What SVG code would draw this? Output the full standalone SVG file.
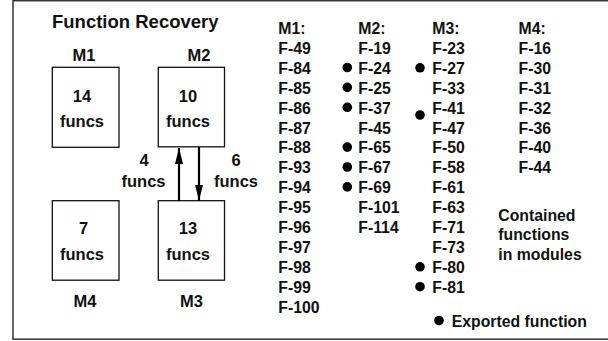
<svg xmlns="http://www.w3.org/2000/svg" width="608" height="341" viewBox="0 0 608 341">
<defs>
<style>
text{font-family:"Liberation Sans",Arial,Helvetica,sans-serif;font-weight:bold;fill:#111;}
.t{font-size:18.5px;}
.b{font-size:16.5px;text-anchor:middle;}
.l{font-size:15.8px;}
.box{fill:#fff;stroke:#111;stroke-width:1.3;}
.conn{stroke:#000;stroke-width:2.2;fill:none;}
</style>
<marker id="ah" viewBox="0 0 16 8" refX="16" refY="4" markerWidth="16" markerHeight="8" markerUnits="userSpaceOnUse" orient="auto">
<path d="M0,0 L16,4 L0,8 Z" fill="#000"/>
</marker>
</defs>
<rect width="608" height="341" fill="#fff"/>
<rect x="13" y="0.7" width="620" height="338.5" fill="none" stroke="#333" stroke-width="1.5"/>
<text class="t" x="52" y="28">Function Recovery</text>

<g id="M1">
<text class="b" x="84" y="60.5">M1</text>
<rect class="box" x="52.3" y="67.3" width="66.7" height="80"/>
<text class="b" x="82" y="101.5">14</text>
<text class="b" x="82" y="126.5">funcs</text>
</g>
<g id="M2">
<text class="b" x="199" y="60.5">M2</text>
<rect class="box" x="158.3" y="67.3" width="66.2" height="79.5"/>
<text class="b" x="188" y="101.5">10</text>
<text class="b" x="188" y="126.5">funcs</text>
</g>
<g id="M4">
<rect class="box" x="52.3" y="200.7" width="66.7" height="79.5"/>
<text class="b" x="83.5" y="233.5">7</text>
<text class="b" x="82" y="260">funcs</text>
<text class="b" x="85" y="307">M4</text>
</g>
<g id="M3">
<rect class="box" x="158.3" y="200.7" width="66.2" height="79.5"/>
<text class="b" x="188" y="233.5">13</text>
<text class="b" x="188" y="260">funcs</text>
<text class="b" x="191.5" y="307">M3</text>
</g>

<g id="connectors">
<line class="conn" x1="179" y1="200.7" x2="179" y2="148" marker-end="url(#ah)"/>
<line class="conn" x1="199" y1="147" x2="199" y2="200.7" marker-end="url(#ah)"/>
<text class="b" x="144" y="166">4</text>
<text class="b" x="143.5" y="187">funcs</text>
<text class="b" x="236" y="166">6</text>
<text class="b" x="236" y="187">funcs</text>
</g>

<g id="list-M1">
<text class="l" x="278.3" y="34">M1:</text>
<text class="l" x="278.3" y="53.9">F-49</text>
<text class="l" x="278.3" y="73.8">F-84</text>
<text class="l" x="278.3" y="93.7">F-85</text>
<text class="l" x="278.3" y="113.6">F-86</text>
<text class="l" x="278.3" y="133.5">F-87</text>
<text class="l" x="278.3" y="153.4">F-88</text>
<text class="l" x="278.3" y="173.3">F-93</text>
<text class="l" x="278.3" y="193.2">F-94</text>
<text class="l" x="278.3" y="213.1">F-95</text>
<text class="l" x="278.3" y="233">F-96</text>
<text class="l" x="278.3" y="252.9">F-97</text>
<text class="l" x="278.3" y="272.8">F-98</text>
<text class="l" x="278.3" y="292.7">F-99</text>
<text class="l" x="278.3" y="312.6">F-100</text>
</g>
<g id="list-M2">
<text class="l" x="358.3" y="34">M2:</text>
<text class="l" x="358.3" y="53.9">F-19</text>
<text class="l" x="358.3" y="73.8">F-24</text>
<text class="l" x="358.3" y="93.7">F-25</text>
<text class="l" x="358.3" y="113.6">F-37</text>
<text class="l" x="358.3" y="133.5">F-45</text>
<text class="l" x="358.3" y="153.4">F-65</text>
<text class="l" x="358.3" y="173.3">F-67</text>
<text class="l" x="358.3" y="193.2">F-69</text>
<text class="l" x="358.3" y="213.1">F-101</text>
<text class="l" x="358.3" y="233">F-114</text>
<circle cx="347.3" cy="67.5" r="4.8"/>
<circle cx="347.3" cy="87.4" r="4.8"/>
<circle cx="347.3" cy="107.3" r="4.8"/>
<circle cx="347.3" cy="147.1" r="4.8"/>
<circle cx="347.3" cy="167" r="4.8"/>
<circle cx="347.3" cy="186.9" r="4.8"/>
</g>
<g id="list-M3">
<text class="l" x="432.3" y="34">M3:</text>
<text class="l" x="432.3" y="53.9">F-23</text>
<text class="l" x="432.3" y="73.8">F-27</text>
<text class="l" x="432.3" y="93.7">F-33</text>
<text class="l" x="432.3" y="113.6">F-41</text>
<text class="l" x="432.3" y="133.5">F-47</text>
<text class="l" x="432.3" y="153.4">F-50</text>
<text class="l" x="432.3" y="173.3">F-58</text>
<text class="l" x="432.3" y="193.2">F-61</text>
<text class="l" x="432.3" y="213.1">F-63</text>
<text class="l" x="432.3" y="233">F-71</text>
<text class="l" x="432.3" y="252.9">F-73</text>
<text class="l" x="432.3" y="272.8">F-80</text>
<text class="l" x="432.3" y="292.7">F-81</text>
<circle cx="420" cy="67.8" r="4.8"/>
<circle cx="420" cy="115" r="4.8"/>
<circle cx="420" cy="266.8" r="4.8"/>
<circle cx="420" cy="286.7" r="4.8"/>
</g>
<g id="list-M4">
<text class="l" x="518.5" y="34">M4:</text>
<text class="l" x="518.5" y="53.9">F-16</text>
<text class="l" x="518.5" y="73.8">F-30</text>
<text class="l" x="518.5" y="93.7">F-31</text>
<text class="l" x="518.5" y="113.6">F-32</text>
<text class="l" x="518.5" y="133.5">F-36</text>
<text class="l" x="518.5" y="153.4">F-40</text>
<text class="l" x="518.5" y="173.3">F-44</text>
</g>
<g id="legend">
<text class="l" x="498.3" y="220.5">Contained</text>
<text class="l" x="498.3" y="240.2">functions</text>
<text class="l" x="498.3" y="259.9">in modules</text>
<circle cx="439" cy="320.5" r="4.8"/>
<text class="l" x="451.7" y="326.5">Exported function</text>
</g>
</svg>
